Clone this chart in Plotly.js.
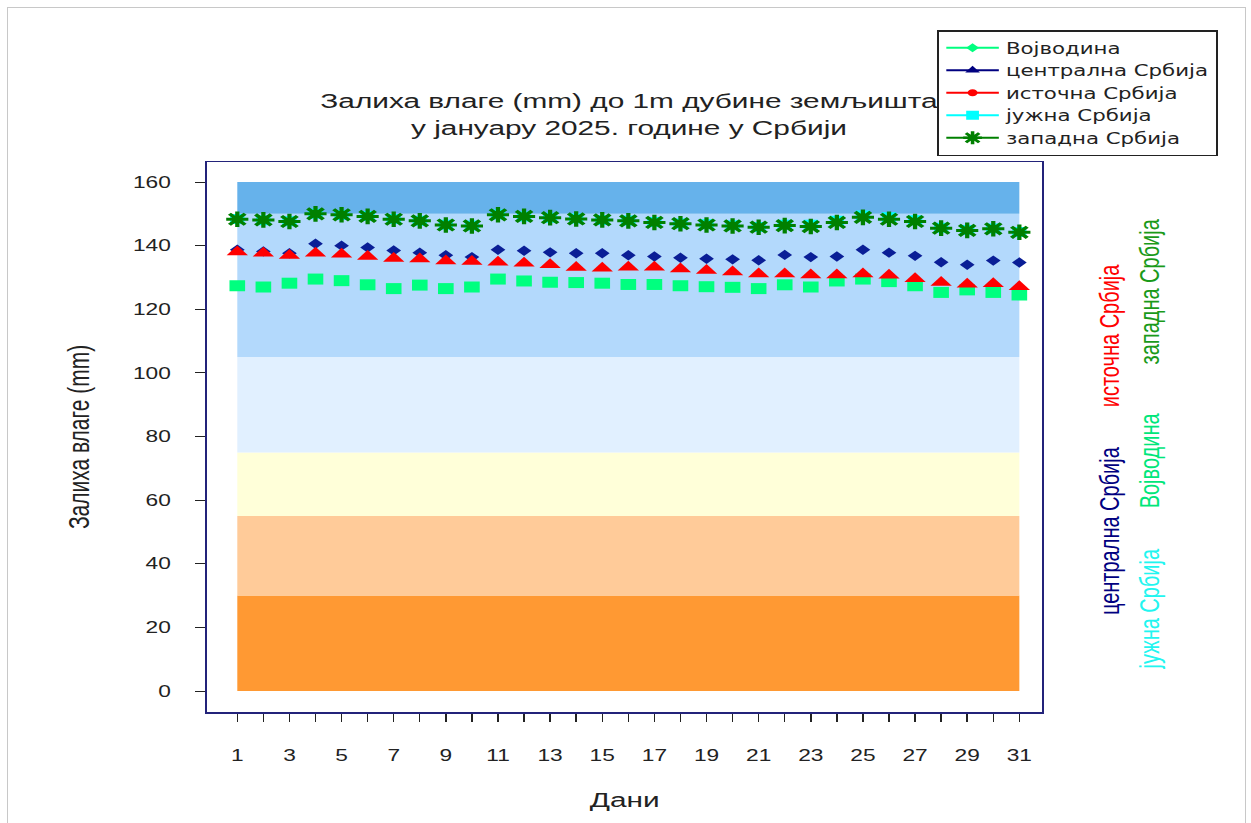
<!DOCTYPE html>
<html>
<head>
<meta charset="utf-8">
<script src="https://cdn.plot.ly/plotly-3.0.1.min.js"></script>
<style>
  html, body { margin: 0; padding: 0; background: #fff; overflow: hidden; }
  #wrap { position: relative; width: 1251px; height: 823px; overflow: hidden; }
  #chart { position: absolute; left: 0; top: 0; width: 881px; height: 823px; transform: scaleX(1.42); transform-origin: 0 0; }
  #frame { position: absolute; left: 7px; top: 7px; width: 1237px; height: 830px; border: 1px solid #c8c8c8; pointer-events: none; }
</style>
</head>
<body>
<div id="wrap"><div id="chart"></div><div id="frame"></div></div>
<script>
// ---- data ----
const days = [1,2,3,4,5,6,7,8,9,10,11,12,13,14,15,16,17,18,19,20,21,22,23,24,25,26,27,28,29,30,31];
const xTickLabels = ['1','','3','','5','','7','','9','','11','','13','','15','','17','','19','','21','','23','','25','','27','','29','','31'];
const yTickVals = [0,20,40,60,80,100,120,140,160];

const vojvodina = [127.4,127.0,128.2,129.5,129.0,127.7,126.5,127.6,126.5,127.0,129.5,128.9,128.5,128.4,128.2,127.8,127.8,127.4,127.1,126.9,126.5,127.7,127.0,128.9,129.5,128.7,127.4,125.3,126.1,125.3,124.5];
const centralna = [138.7,138.2,137.6,140.6,140.0,139.4,138.5,137.8,137.0,136.4,138.7,138.4,137.9,137.6,137.6,137.0,136.6,136.2,135.9,135.7,135.4,137.1,136.4,136.6,138.7,137.8,136.8,134.8,134.0,135.3,134.7];
const istocna   = [138.0,137.6,136.9,137.6,137.3,136.6,136.0,135.8,135.2,135.0,134.8,134.5,134.0,133.1,132.9,133.2,133.2,132.7,132.2,131.7,131.1,131.1,130.8,130.8,131.1,130.7,129.6,128.4,127.9,128.0,127.1];
const juzna     = [148.4,148.0,147.7,150.0,149.6,149.3,148.4,147.8,146.6,146.3,149.8,149.2,148.8,148.5,148.1,147.9,147.4,147.0,146.7,146.4,145.9,146.6,146.6,147.8,149.5,148.9,148.0,145.6,144.9,145.4,144.3];
const zapadna   = [148.3,148.1,147.6,150.0,149.7,149.2,148.3,147.8,146.5,146.2,149.7,149.2,148.8,148.4,148.1,147.8,147.3,146.9,146.5,146.2,145.8,146.3,146.0,147.3,148.9,148.3,147.6,145.5,144.8,145.3,144.2];

const seriesNames = ['Војводина','централна Србија','источна Србија','јужна Србија','западна Србија'];

// moisture class bands (mm)
const bandLow  = [0, 30, 55, 75, 105, 150];
const bandHigh = [30, 55, 75, 105, 150, 160];
const bandColors = ['#FF9933','#FFCB99','#FFFFD9','#E1F0FF','#B3D9FC','#66B2EB'];

// ---- styles ----
const FONT = '"Liberation Sans", Arial, sans-serif';
const cVoj = '#00FF7F', cCen = '#0A1E96', cCenLeg = '#000080', cIst = '#FF0000', cJuz = '#00FFFF', cZap = '#008000';

const traces = [
  {x: days, y: juzna, type: 'scatter', mode: 'markers', showlegend: false, name: seriesNames[3],
   marker: {symbol: 'square', size: 10, color: cJuz}},
  {x: days, y: zapadna, type: 'scatter', mode: 'markers', showlegend: false, name: seriesNames[4],
   marker: {symbol: 'asterisk', size: 13, color: cZap, line: {color: cZap, width: 3}}},
  {x: days, y: centralna, type: 'scatter', mode: 'markers', showlegend: false, name: seriesNames[1],
   marker: {symbol: 'diamond', size: 8, color: cCen}},
  {x: days, y: vojvodina, type: 'scatter', mode: 'markers', showlegend: false, name: seriesNames[0],
   marker: {symbol: 'square', size: 11, color: cVoj}},
  {x: days, y: istocna, type: 'scatter', mode: 'markers', showlegend: false, name: seriesNames[2],
   marker: {symbol: 'triangle-up', size: 13, color: cIst}},
  // legend entries
  {x: [null], y: [null], type: 'scatter', mode: 'lines+markers', name: seriesNames[0], legendrank: 1,
   line: {color: cVoj, width: 2}, marker: {symbol: 'diamond', size: 7, color: cVoj}},
  {x: [null], y: [null], type: 'scatter', mode: 'lines+markers', name: seriesNames[1], legendrank: 2,
   line: {color: cCenLeg, width: 2}, marker: {symbol: 'triangle-up', size: 9, color: cCenLeg}},
  {x: [null], y: [null], type: 'scatter', mode: 'lines+markers', name: seriesNames[2], legendrank: 3,
   line: {color: cIst, width: 2}, marker: {symbol: 'circle', size: 7, color: cIst}},
  {x: [null], y: [null], type: 'scatter', mode: 'lines+markers', name: seriesNames[3], legendrank: 4,
   line: {color: cJuz, width: 2}, marker: {symbol: 'square', size: 9, color: cJuz}},
  {x: [null], y: [null], type: 'scatter', mode: 'lines+markers', name: seriesNames[4], legendrank: 5,
   line: {color: cZap, width: 2}, marker: {symbol: 'asterisk', size: 11, color: cZap, line: {color: cZap, width: 2.5}}}
];

const shapes = bandLow.map((lo, i) => ({
  type: 'rect', xref: 'x', yref: 'y', x0: days[0], x1: days[days.length - 1], y0: lo, y1: bandHigh[i],
  fillcolor: bandColors[i], line: {width: 0}, layer: 'below'
}));

const sideLabels = [
  {text: 'источна Србија',   color: '#FF0000', x: 1.080, y: 0.685},
  {text: 'централна Србија', color: '#000080', x: 1.080, y: 0.329},
  {text: 'западна Србија',   color: '#1A9A1A', x: 1.128, y: 0.765},
  {text: 'Војводина',        color: '#00E67A', x: 1.128, y: 0.458},
  {text: 'јужна Србија',     color: '#22F5F0', x: 1.128, y: 0.187}
];

const annotations = sideLabels.map(s => ({
  text: s.text, xref: 'paper', yref: 'paper', x: s.x, y: s.y, xanchor: 'center', yanchor: 'middle',
  textangle: -90, showarrow: false, font: {family: FONT, size: 20, color: s.color}
}));

const layout = {
  width: 881, height: 823,
  margin: {l: 146, r: 147, t: 162, b: 111, pad: 0},
  paper_bgcolor: '#ffffff', plot_bgcolor: '#ffffff',
  font: {family: FONT, size: 16, color: '#222'},
  title: {
    text: 'Залиха влаге (mm) до 1m дубине земљишта<br>у јануару 2025. године у Србији',
    font: {family: FONT, size: 21, color: '#222'},
    xref: 'paper', x: 0.505, xanchor: 'center', yref: 'container', y: 0.8688, yanchor: 'middle'
  },
  xaxis: {
    range: [-0.15, 31.88], tickmode: 'array', tickvals: days, ticktext: xTickLabels,
    ticks: 'outside', ticklen: 8, tickwidth: 1, tickcolor: '#222',
    ticklabelstandoff: 20,
    showgrid: false, zeroline: false, showline: true, mirror: true, linecolor: '#23237A', linewidth: 1.5,
    tickfont: {family: FONT, size: 16, color: '#222'},
    title: {text: 'Дани', font: {family: FONT, size: 21, color: '#222'}, standoff: 29},
    fixedrange: true
  },
  yaxis: {
    range: [-6.6, 166.3], tickmode: 'array', tickvals: yTickVals,
    ticks: 'outside', ticklen: 7, tickwidth: 1, tickcolor: '#222',
    ticklabelstandoff: 14,
    showgrid: false, zeroline: false, showline: true, mirror: true, linecolor: '#23237A', linewidth: 1.5,
    tickfont: {family: FONT, size: 16, color: '#222'},
    title: {text: 'Залиха влаге (mm)', font: {family: FONT, size: 21, color: '#222'}, standoff: 24},
    fixedrange: true
  },
  legend: {
    x: 0.874, y: 1.24, xanchor: 'left', yanchor: 'top', xref: 'paper', yref: 'paper',
    bgcolor: '#ffffff', bordercolor: '#222', borderwidth: 1.5,
    font: {family: '"DejaVu Sans", "Liberation Sans", sans-serif', size: 15, color: '#222'},
    itemwidth: 37, traceorder: 'normal', tracegroupgap: 0
  },
  shapes: shapes,
  annotations: annotations,
  showlegend: true
};

Plotly.newPlot('chart', traces, layout, {displayModeBar: false, staticPlot: true});
</script>
</body>
</html>
